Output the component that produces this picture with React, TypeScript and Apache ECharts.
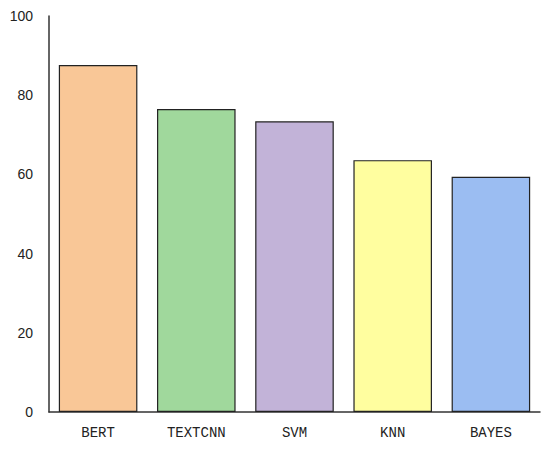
import React, { useEffect, useRef } from "react";
import * as echarts from "echarts";

const categories = ["BERT", "TEXTCNN", "SVM", "KNN", "BAYES"];
const values = [87.6, 76.5, 73.4, 63.6, 59.4];
const colors = ["#F9C797", "#A0D89C", "#C2B3D8", "#FFFE9F", "#9BBDF2"];

export default function App() {
  const ref = useRef<HTMLDivElement>(null);
  useEffect(() => {
    if (!ref.current) return;
    const chart = echarts.init(ref.current, null, { renderer: "svg" });
    chart.setOption({
      animation: false,
      backgroundColor: "#ffffff",
      grid: { left: 49, right: 10, top: 16, bottom: 40, containLabel: false },
      xAxis: {
        type: "category",
        data: categories,
        axisLine: { show: true, lineStyle: { color: "#333", width: 1.5 } },
        axisTick: { show: false },
        axisLabel: {
          margin: 14,
          fontFamily: "Liberation Mono",
          fontSize: 14,
          color: "#222",
        },
      },
      yAxis: {
        type: "value",
        min: 0,
        max: 100,
        interval: 20,
        axisLine: { show: true, lineStyle: { color: "#333", width: 1.5 } },
        axisTick: { show: false },
        splitLine: { show: false },
        axisLabel: {
          margin: 16,
          fontFamily: "Liberation Sans",
          fontSize: 14,
          color: "#222",
        },
      },
      series: [
        {
          type: "bar",
          barCategoryGap: "20%",
          data: values.map((v, i) => ({
            value: v,
            itemStyle: { color: colors[i], borderColor: "#222", borderWidth: 1.2 },
          })),
        },
      ],
    });
    return () => chart.dispose();
  }, []);
  return (
    <div
      ref={ref}
      style={{ position: "absolute", left: 0, top: 0, width: 550, height: 452 }}
    />
  );
}
